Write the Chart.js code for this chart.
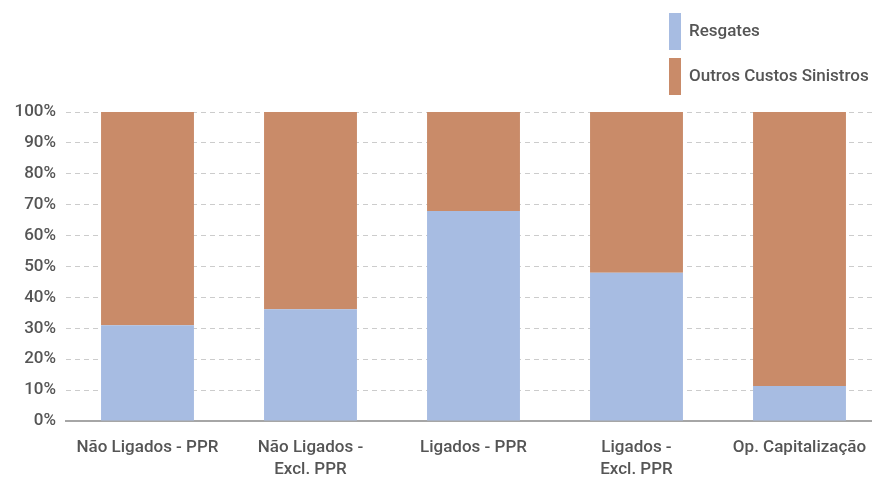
<!DOCTYPE html>
<html><head><meta charset="utf-8">
<script src="https://cdn.jsdelivr.net/npm/chart.js@4/dist/chart.umd.min.js"></script>
<style>html,body{margin:0;padding:0;overflow:hidden;background:#fff;width:872px;height:479px}
#wrap{width:892px;height:479px;position:relative}</style>
</head><body><div id="wrap"><canvas id="c"></canvas></div>
<script>
const categories = [["Não Ligados - PPR"], ["Não Ligados -", "Excl. PPR"], ["Ligados - PPR"], ["Ligados -", "Excl. PPR"], ["Op. Capitalização"]];
const resgates = [31, 36.2, 68, 48, 11.3];
const outros = [69, 63.8, 32, 52, 88.7];
const seriesNames = ["Resgates", "Outros Custos Sinistros"];
const colors = ["#a7bce2", "#c98b69"];
const FONT = "Roboto, 'Open Sans', sans-serif";
const TXT = "#555555";

const legendPlugin = {
  id: 'customLegend',
  afterDraw(chart) {
    const ctx = chart.ctx;
    ctx.save();
    chart.data.datasets.forEach((ds, i) => {
      const y0 = 13 + i * 45;
      ctx.fillStyle = ds.backgroundColor;
      ctx.fillRect(669, y0, 12, 37);
      ctx.fillStyle = TXT;
      ctx.font = "500 17px " + FONT;
      ctx.textBaseline = 'middle';
      ctx.textAlign = 'left';
      ctx.fillText(ds.label, 689, y0 + 19);
    });
    ctx.restore();
  }
};

new Chart(document.getElementById('c'), {
  type: 'bar',
  data: {
    labels: categories,
    datasets: [
      {label: seriesNames[0], data: resgates, backgroundColor: colors[0], borderWidth: 0},
      {label: seriesNames[1], data: outros, backgroundColor: colors[1], borderWidth: 0}
    ]
  },
  options: {
    responsive: true,
    maintainAspectRatio: false,
    animation: false,
    layout: {padding: {top: 112, right: 11, left: 0, bottom: 0}},
    plugins: {legend: {display: false}, tooltip: {enabled: false}},
    datasets: {bar: {categoryPercentage: 1, barPercentage: 0.57}},
    scales: {
      x: {
        stacked: true,
        afterFit(s) { s.height = 58; },
        grid: {display: false, drawTicks: false},
        border: {display: true, color: '#a6a6a6', width: 2},
        ticks: {color: TXT, font: {family: FONT, size: 17, weight: '500', lineHeight: 1.3}, padding: 16, maxRotation: 0, autoSkip: false}
      },
      y: {
        stacked: true,
        min: 0, max: 100,
        afterFit(s) { s.width = 66; },
        ticks: {stepSize: 10, color: TXT, font: {family: FONT, size: 17, weight: '500'}, padding: 10, callback: v => v + '%'},
        grid: {color: '#cccccc', drawTicks: false, lineWidth: 1},
        border: {display: false, dash: [5, 4]}
      }
    }
  },
  plugins: [legendPlugin]
});
</script></body></html>
